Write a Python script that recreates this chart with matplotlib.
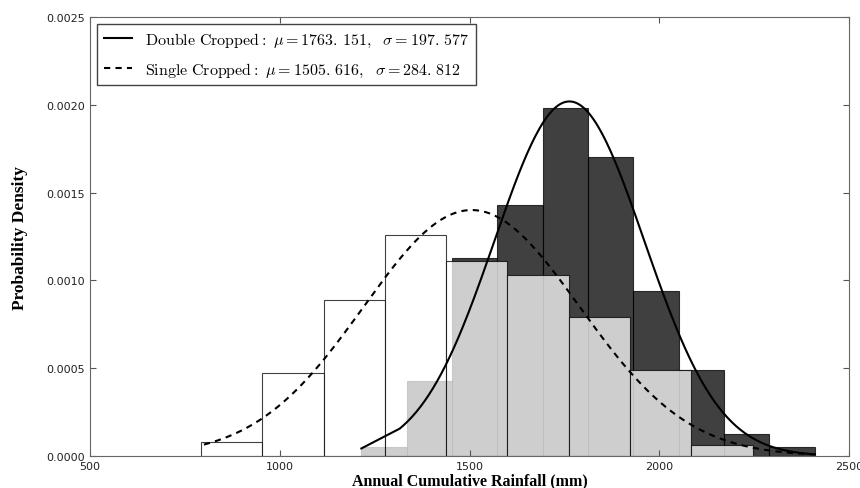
import numpy as np
import matplotlib
matplotlib.use("Agg")
from matplotlib import pyplot as plt

# rainfall histograms (density) for the two cropping classes
double_edges = [1215, 1334.5, 1454, 1573.5, 1693, 1812.5, 1932, 2051.5, 2171, 2290.5, 2410]
double_density = [0.00005, 0.000425, 0.00113, 0.00143, 0.00198, 0.00170, 0.00094, 0.00049, 0.000125, 0.00005]

single_edges = [792.5, 954, 1115.5, 1277, 1438.5, 1600, 1761.5, 1923, 2084.5, 2246, 2407.5]
single_density = [0.00008, 0.000475, 0.00089, 0.00126, 0.00111, 0.00103, 0.00079, 0.00049, 0.00006, 0.0]

# fitted normal parameters
double_mu, double_sigma = 1763.151, 197.577
single_mu, single_sigma = 1505.616, 284.812

xticks = [500, 1000, 1500, 2000, 2500]
yticks = [0.0, 0.0005, 0.0010, 0.0015, 0.0020, 0.0025]


def normal_pdf(x, mu, sigma):
    x = np.asarray(x, dtype=float)
    return np.exp(-0.5 * ((x - mu) / sigma) ** 2) / (sigma * np.sqrt(2 * np.pi))


plt.rcParams['mathtext.fontset'] = 'cm'

fig = plt.figure(figsize=(8.6, 4.89), dpi=100)
ax = fig.add_axes([0.1047, 0.0654, 0.8825, 0.8978])

de = np.array(double_edges)
se = np.array(single_edges)
ax.bar(de[:-1], double_density, width=np.diff(de), align='edge',
       color='black', alpha=0.75, edgecolor='black', linewidth=0.8)
ax.bar(se[:-1], single_density, width=np.diff(se), align='edge',
       color='white', alpha=0.75, edgecolor='black', linewidth=0.8)

# curves evaluated from the fitted parameters
xd = np.concatenate([[double_edges[0]], np.linspace(1316, double_edges[-1], 200)])
xs = np.linspace(800, double_edges[-1], 300)
ax.plot(xd, normal_pdf(xd, double_mu, double_sigma), color='black', lw=1.5,
        label=r'$\mathrm{Double\ Cropped:}\ \mu=1763.\,151,\ \ \sigma=197.\,577$')
ax.plot(xs, normal_pdf(xs, single_mu, single_sigma), color='black', lw=1.5,
        linestyle=(0, (3, 2.5)),
        label=r'$\mathrm{Single\ Cropped:}\ \mu=1505.\,616,\ \ \sigma=284.\,812$')

ax.set_xlim(500, 2500)
ax.set_ylim(0, 0.0025)
ax.set_xticks(xticks)
ax.set_yticks(yticks)
ax.set_yticklabels(['%.4f' % v for v in yticks])
ax.tick_params(direction='in', top=True, right=True, labelsize=8, length=4,
               color='#555555', labelcolor='#222222')
for s in ax.spines.values():
    s.set_color('#666666')

ax.set_xlabel('Annual Cumulative Rainfall (mm)', family='Liberation Serif',
              fontweight='bold', fontsize=11.5, labelpad=1)
ax.set_ylabel('Probability Density', family='Liberation Serif',
              fontweight='bold', fontsize=12.5, labelpad=13)

leg = ax.legend(loc='upper left', fontsize=11.5, fancybox=False, framealpha=1,
                handlelength=1.8, borderaxespad=0.45, labelspacing=0.75)
leg.get_frame().set_edgecolor('#444444')

fig.savefig('out.png', dpi=100)
